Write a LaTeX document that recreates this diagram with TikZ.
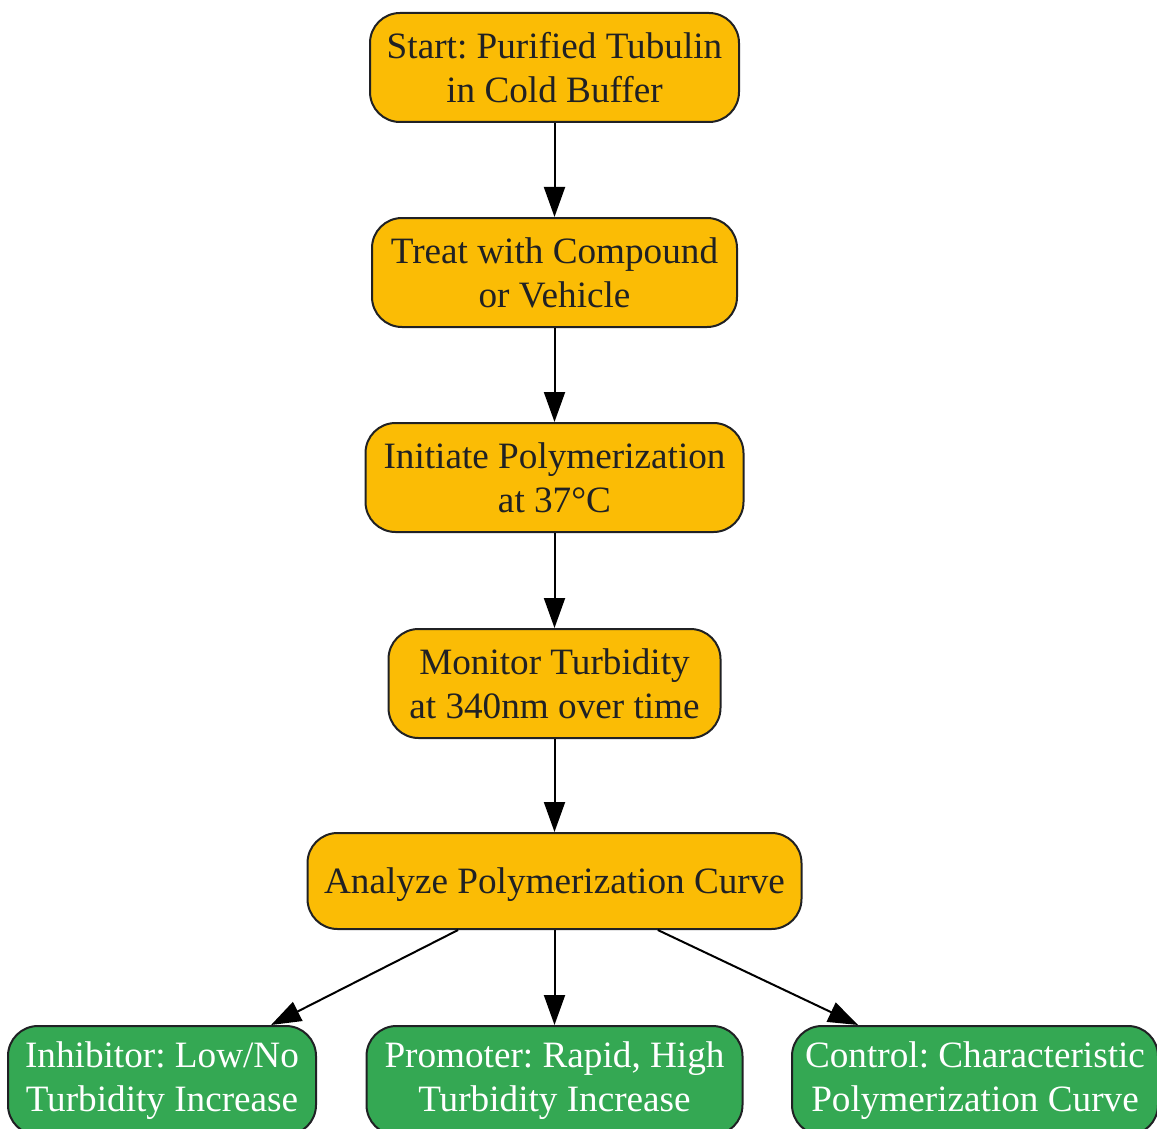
\documentclass[tikz,border=0pt]{standalone}
\usepackage{fontspec}
\setmainfont{Liberation Serif}
\frenchspacing
\usetikzlibrary{arrows.meta}
\definecolor{stepyellow}{HTML}{FBBC05}
\definecolor{stepgreen}{HTML}{34A853}
\definecolor{inkgray}{HTML}{202124}
\tikzset{
  box/.style={draw=inkgray, line width=2pt, rounded corners=30pt, align=center,
    minimum height=109pt, inner sep=0pt,
    font=\fontsize{37.2}{44}\selectfont},
  stagebox/.style={box, fill=stepyellow, text=inkgray},
  outcomebox/.style={box, fill=stepgreen, text=white},
  flow/.style={line width=2pt, -{Triangle[length=30pt,width=21pt]}}
}
\begin{document}
\begin{tikzpicture}[x=1pt, y=-1pt]
			%%%%% START %%%%%
			\useasboundingbox (0, 0) rectangle (1157, 1129);
			
			\node[stagebox, minimum width=369pt] (start) at (554.5, 67.5) {Start: Purified Tubulin\\in Cold Buffer};
			\node[stagebox, minimum width=365pt] (treat) at (554.5, 272.5) {Treat with Compound\\or Vehicle};
			\node[stagebox, minimum width=378pt] (initiate) at (554.5, 477.5) {Initiate Polymerization\\at 37°C};
			\node[stagebox, minimum width=332pt] (monitor) at (554.5, 683.5) {Monitor Turbidity\\at 340nm over time};
			\node[stagebox, minimum width=494pt, minimum height=96pt, text depth=0pt] (analyze) at (554.5, 881) {Analyze Polymerization Curve};
			
			\node[outcomebox, minimum width=308pt] (inhibitor) at (162, 1080.5) {Inhibitor: Low/No\\Turbidity Increase};
			\node[outcomebox, minimum width=376pt] (promoter) at (554.5, 1080.5) {Promoter: Rapid, High\\Turbidity Increase};
			\node[outcomebox, minimum width=366pt] (control) at (975, 1080.5) {Control: Characteristic\\Polymerization Curve};
			
			\draw[flow] (start) -- (treat);
			\draw[flow] (treat) -- (initiate);
			\draw[flow] (initiate) -- (monitor);
			\draw[flow] (monitor) -- (analyze);
			\draw[flow] (analyze) -- (inhibitor);
			\draw[flow] (analyze) -- (promoter);
			\draw[flow] (analyze) -- (control);
			%%%%% END %%%%%
		\end{tikzpicture}
\end{document}
